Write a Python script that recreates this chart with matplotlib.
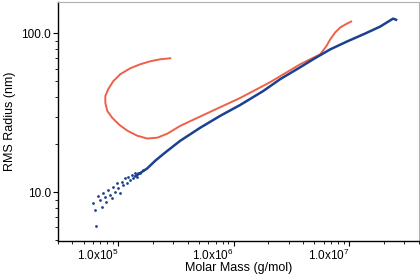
import matplotlib
matplotlib.use("Agg")
import matplotlib.pyplot as plt
from matplotlib.ticker import FixedLocator, LogLocator, NullFormatter

plt.rcParams['font.family'] = ['Liberation Sans', 'DejaVu Sans']
plt.rcParams['mathtext.fontset'] = 'custom'
plt.rcParams['mathtext.rm'] = 'Liberation Sans'

# red trace (molar mass g/mol, rms radius nm)
red_mass = [2.82e5, 2.31e5, 1.89e5, 1.55e5, 1.27e5, 1.04e5, 9.05e4, 8.19e4, 7.72e4,
            7.72e4, 8.03e4, 8.87e4, 1.02e5, 1.20e5, 1.46e5, 1.78e5, 2.18e5, 2.66e5,
            3.44e5, 4.64e5, 6.26e5, 8.44e5, 1.14e6, 1.48e6, 2.07e6, 2.79e6, 3.77e6,
            4.78e6, 5.61e6, 6.32e6, 6.85e6, 7.56e6, 8.36e6, 9.24e6, 1.04e7]
red_rms = [69.8, 68.8, 66.8, 64.0, 60.4, 55.4, 50.1, 44.7, 40.4,
           36.5, 32.5, 29.4, 26.6, 24.4, 22.7, 21.8, 22.07, 23.4,
           26.2, 29.0, 32.1, 35.5, 39.3, 43.4, 49.4, 56.2, 64.0,
           69.8, 73.9, 82.9, 91.7, 101.4, 109.0, 113.8, 118.9]

# blue trace, noisy low-mass slices
blue_pts_mass = [6.08e4, 6.32e4, 6.45e4, 6.71e4, 6.98e4, 7.27e4, 7.41e4, 7.72e4, 7.87e4,
                 8.19e4, 8.53e4, 8.87e4, 9.05e4, 9.42e4, 9.80e4, 1.0e5, 1.04e5, 1.08e5,
                 1.105e5, 1.15e5, 1.20e5, 1.22e5, 1.27e5, 1.32e5, 1.35e5, 1.40e5, 1.46e5,
                 1.49e5, 1.55e5, 1.65e5]
blue_pts_rms = [8.54, 7.72, 6.13, 9.44, 8.91, 8.06, 9.86, 9.31, 8.66,
                10.29, 9.58, 9.17, 10.75, 10.0, 11.38, 10.6, 9.86, 11.55,
                11.06, 12.23, 11.38, 12.41, 11.9, 12.77, 12.23, 13.15, 12.41,
                13.3, 13.15, 13.72]

# blue trace, dense part
blue_mass = [1.40e5, 1.78e5, 2.09e5, 2.55e5, 3.44e5, 5.13e5, 7.64e5, 1.14e6, 1.80e6,
             2.53e6, 3.77e6, 4.88e6, 6.85e6, 9.61e6, 1.38e7, 1.86e7, 2.40e7, 2.55e7]
blue_rms = [12.59, 14.13, 15.8, 17.8, 21.1, 25.5, 30.3, 35.5, 43.4,
            51.6, 61.3, 68.8, 79.4, 89.1, 100.0, 110.6, 124.0, 122.0]

xticks = [1e5, 1e6, 1e7]
xticklabels = [r'$\mathrm{1.0x10^{5}}$', r'$\mathrm{1.0x10^{6}}$', r'$\mathrm{1.0x10^{7}}$']
yticks = [10, 100]
yticklabels = ['10.0', '100.0']

blue = '#1b4190'
red = '#ef6048'

fig = plt.figure(figsize=(4.2, 2.75), dpi=100)
ax = fig.add_axes([0.138, 0.124, 0.86, 0.869])

ax.plot(red_mass, red_rms, color=red, lw=1.4, zorder=2)
ax.plot(blue_mass, blue_rms, color=blue, lw=1.8, zorder=3)
ax.plot(blue_pts_mass, blue_pts_rms, ls='none', marker='o', ms=2.0, color=blue, mew=0, zorder=3)

ax.set_xscale('log')
ax.set_yscale('log')
ax.set_xlim(3.0e4, 4.04e7)
ax.set_ylim(4.94, 158)

ax.xaxis.set_major_locator(FixedLocator(xticks))
ax.set_xticklabels(xticklabels, ha='right')
ax.xaxis.set_minor_locator(LogLocator(base=10, subs=range(2, 10)))
ax.xaxis.set_minor_formatter(NullFormatter())
ax.yaxis.set_major_locator(FixedLocator(yticks))
ax.set_yticklabels(yticklabels)
ax.yaxis.set_minor_locator(LogLocator(base=10, subs=range(2, 10)))
ax.yaxis.set_minor_formatter(NullFormatter())

ax.tick_params(which='major', length=3.5, width=0.8, labelsize=8.5, pad=1.5)
ax.tick_params(which='minor', length=2, width=0.6)

for s in ['left', 'bottom']:
    ax.spines[s].set_linewidth(1.0)
for s in ['top', 'right']:
    ax.spines[s].set_color('#b0b0b0')
    ax.spines[s].set_linewidth(0.8)

ax.set_xlabel('Molar Mass (g/mol)', fontsize=9, labelpad=-1)
ax.set_ylabel('RMS Radius (nm)', fontsize=9, labelpad=4)

fig.savefig('out.png', dpi=100)
